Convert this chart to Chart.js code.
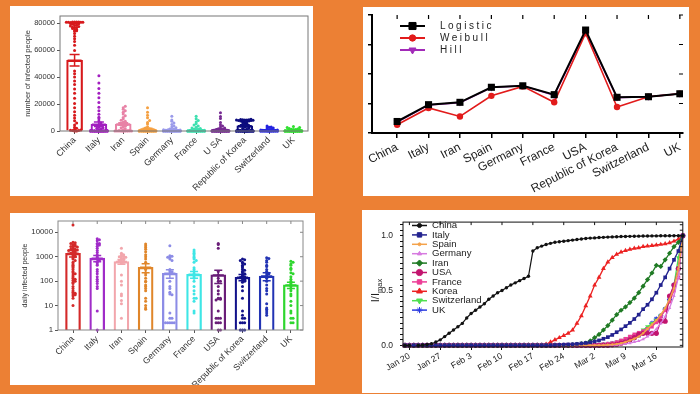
<!DOCTYPE html>
<html>
<head>
<meta charset="utf-8">
<script src="https://cdn.jsdelivr.net/npm/chart.js@4.4.1/dist/chart.umd.min.js"></script>
<style>
    html, body { margin: 0; padding: 0; width: 700px; height: 394px; overflow: hidden; background: #ec8034; }
    .panel { position: absolute; background: #fff; }
    .panel canvas { display: block; }
</style>
</head>
<body>
<div class="panel" style="left:10px;top:6px;width:303px;height:190px"><canvas id="total-chart"></canvas></div>
<div class="panel" style="left:363px;top:7px;width:326px;height:189px"><canvas id="model-chart"></canvas></div>
<div class="panel" style="left:10px;top:213px;width:305px;height:172px"><canvas id="daily-chart"></canvas></div>
<div class="panel" style="left:362px;top:210px;width:326px;height:183px"><canvas id="ratio-chart"></canvas></div>
<script>
// ---- top left: total infected per country ----
const totalCountries = ['China', 'Italy', 'Iran', 'Spain', 'Germany', 'France', 'U SA', 'Republic of Korea', 'Switzerland', 'UK'];
const totalColors = ['#d7191c', '#a21fc0', '#e882a6', '#f5a041', '#9a9aea', '#3ee0b0', '#762a92', '#0b0b7e', '#2424e0', '#30e030'];
const totalMean = [52600, 5000, 5200, 1400, 900, 1000, 1200, 3900, 700, 500];
const totalSem = [4200, 1700, 900, 600, 400, 400, 500, 700, 250, 200];
const totalTicks = [0, 20000, 40000, 60000, 80000];

const totalChina = [0, 0, 300, 440, 570, 830, 1300, 2000, 2700, 4500, 6000, 7700, 9700, 11800, 14400, 17200, 20400, 24300, 28000, 31200, 34500, 37200, 40200, 42600, 44700, 59800, 63800, 66500, 68500, 70500, 72400, 74100, 74500, 75000, 75500, 76200, 76700, 77000, 77200, 77700, 78100, 78500, 78800, 79300, 79800, 80000, 80200, 80400, 80500, 80600, 80700, 80800, 80800, 80900, 80900, 81000, 81000, 81000, 81100];
const totalItaly = [0, 0, 0, 0, 0, 0, 0, 0, 0, 0, 0, 0, 2, 3, 3, 3, 3, 3, 3, 3, 3, 3, 3, 3, 3, 3, 3, 3, 3, 3, 17, 79, 150, 229, 322, 400, 650, 888, 1128, 1694, 2036, 2502, 3089, 3858, 4636, 5883, 7375, 9172, 10149, 12462, 15113, 17660, 21157, 24747, 27980, 31506, 35713, 41035];
const totalIran = [0, 0, 0, 0, 2, 5, 18, 28, 43, 61, 95, 139, 245, 388, 593, 978, 1501, 2336, 2922, 3513, 4747, 5823, 6566, 7161, 8042, 9000, 10075, 11364, 12729, 13938, 14991, 16169, 17361, 18407];
const totalSpain = [0, 0, 0, 0, 0, 0, 0, 0, 0, 0, 1, 2, 2, 2, 2, 2, 2, 2, 6, 13, 15, 32, 45, 84, 120, 165, 222, 259, 400, 500, 673, 1073, 1695, 2277, 3146, 5232, 6391, 7798, 9942, 11748, 13910, 17300];
const totalGermany = [0, 0, 0, 0, 1, 4, 5, 8, 10, 12, 13, 14, 16, 16, 16, 16, 16, 16, 16, 16, 16, 16, 16, 18, 21, 26, 53, 66, 117, 150, 188, 240, 349, 534, 684, 847, 1112, 1296, 1567, 2369, 3062, 3795, 4838, 6012, 7156, 8198, 10999];
const totalFrance = [0, 0, 0, 3, 5, 6, 6, 6, 6, 6, 6, 11, 11, 11, 12, 12, 12, 12, 12, 12, 12, 12, 12, 12, 14, 18, 38, 57, 100, 130, 191, 212, 285, 423, 613, 949, 1126, 1209, 1784, 2281, 2876, 3661, 4499, 5423, 6633, 7730, 9134, 10995];
const totalUSA = [1, 1, 2, 2, 5, 5, 5, 6, 7, 8, 11, 11, 11, 12, 12, 13, 13, 14, 15, 15, 15, 15, 15, 35, 35, 53, 57, 60, 60, 62, 64, 68, 75, 100, 124, 158, 221, 319, 435, 541, 704, 994, 1301, 1697, 2247, 2943, 3680, 4663, 6411, 9259, 10800, 13600];
const totalKorea = [1, 1, 1, 2, 2, 3, 4, 4, 4, 11, 12, 15, 15, 16, 19, 23, 24, 24, 25, 27, 28, 28, 28, 28, 28, 29, 30, 31, 31, 104, 204, 433, 602, 833, 977, 1261, 1766, 2337, 3150, 3736, 4335, 5186, 5621, 6088, 6593, 7041, 7313, 7478, 7513, 7755, 7869, 7979, 8086, 8162, 8236, 8320, 8413, 8565, 8652];
const totalSwitzerland = [0, 0, 0, 0, 0, 0, 0, 0, 0, 0, 1, 1, 8, 8, 18, 27, 42, 56, 90, 114, 214, 268, 337, 374, 491, 652, 652, 1139, 1359, 2200, 2200, 2700, 3028, 3700];
const totalUK = [2, 2, 2, 2, 2, 2, 2, 2, 3, 8, 8, 8, 9, 9, 9, 9, 9, 9, 9, 9, 9, 9, 9, 13, 13, 13, 15, 20, 23, 36, 40, 51, 85, 115, 163, 206, 273, 321, 382, 456, 460, 798, 1140, 1140, 1391, 1543, 1950, 2626, 2689, 3269];
const totalPoints = [totalChina, totalItaly, totalIran, totalSpain, totalGermany, totalFrance, totalUSA, totalKorea, totalSwitzerland, totalUK];

// ---- top right: model comparison ----
const modelCountries = ['China', 'Italy', 'Iran', 'Spain', 'Germany', 'France', 'USA', 'Republic of Korea', 'Switzerland', 'UK'];
const logistic = [0.39, 0.96, 1.04, 1.55, 1.6, 1.3, 3.49, 1.21, 1.23, 1.33];
const weibull = [0.28, 0.85, 0.56, 1.26, 1.58, 1.04, 3.38, 0.88, 1.23, 1.33];
const hill = [0.37, 0.95, 1.03, 1.54, 1.6, 1.28, 3.45, 1.2, 1.23, 1.33];
const modelTicks = [0, 1, 2, 3, 4];

// ---- bottom left: daily infected (log) ----
const dailyCountries = ['China', 'Italy', 'Iran', 'Spain', 'Germany', 'France', 'USA', 'Republic of Korea', 'Switzerland', 'UK'];
const dailyColors = ['#d42a2a', '#a02cc8', '#f2a6ac', '#e0862a', '#8c8ce6', '#3ee6e6', '#6a1e78', '#12128a', '#2234b4', '#2ed62e'];
const dailyMean = [1390, 870, 630, 370, 210, 191, 180, 145, 163, 70];
const dailySem = [420, 250, 140, 150, 80, 60, 100, 40, 60, 20];
const dailyTicks = [1, 10, 100, 1000, 10000];

const dailyChina = [20000, 3900, 3700, 3500, 3200, 3000, 2800, 2700, 2600, 2500, 2300, 2100, 2000, 2000, 1900, 1800, 1750, 1700, 1500, 1450, 1400, 1300, 1200, 1100, 1000, 900, 800, 700, 600, 500, 450, 400, 350, 300, 250, 220, 200, 180, 150, 130, 120, 110, 100, 90, 80, 60, 50, 40, 35, 32, 30, 28, 25, 20, 10];
const dailyItaly = [5500, 5000, 4500, 3500, 3500, 3300, 3000, 2700, 2200, 1800, 1500, 1200, 1000, 900, 800, 700, 600, 500, 450, 300, 250, 200, 150, 120, 100, 80, 60, 50, 6, 1];
const dailyIran = [2200, 1400, 1300, 1200, 1100, 1050, 1000, 950, 900, 850, 800, 750, 700, 650, 600, 550, 180, 100, 70, 30, 25, 16, 12, 3];
const dailySpain = [3300, 2800, 2400, 2000, 1600, 1200, 1000, 800, 600, 340, 300, 220, 180, 130, 100, 95, 70, 60, 50, 40, 20, 15, 10, 8, 7];
const dailyGermany = [2800, 1100, 1050, 950, 900, 800, 700, 300, 260, 240, 210, 100, 60, 50, 35, 30, 28, 5, 3, 3, 2, 2, 2, 2, 2];
const dailyFrance = [1900, 1600, 1400, 1200, 1000, 900, 800, 700, 600, 350, 300, 250, 200, 150, 130, 100, 60, 40, 30, 20, 20, 15, 6, 5];
const dailyUSA = [3500, 3200, 2200, 250, 180, 130, 100, 100, 60, 40, 30, 20, 20, 19, 18, 17, 6, 3, 3, 3, 2, 2, 2, 1, 1];
const dailyKorea = [800, 750, 700, 600, 550, 500, 450, 400, 350, 300, 280, 250, 220, 200, 180, 160, 150, 140, 130, 120, 110, 100, 90, 60, 40, 20, 6, 4, 3, 3, 2, 2, 2, 1, 1, 1];
const dailySwitzerland = [900, 850, 700, 600, 450, 400, 300, 250, 220, 200, 180, 150, 130, 100, 70, 50, 40, 30, 12, 8, 7, 6, 5, 4];
const dailyUK = [650, 600, 500, 450, 340, 300, 220, 200, 150, 120, 100, 80, 70, 60, 50, 40, 30, 25, 15, 10, 6, 5, 3, 3, 2, 2];
const dailyPoints = [dailyChina, dailyItaly, dailyIran, dailySpain, dailyGermany, dailyFrance, dailyUSA, dailyKorea, dailySwitzerland, dailyUK];

// ---- bottom right: I / Imax from Jan 19 ----
const normChina = [
    0, 0, null, 0, 0.003, 0.008, 0.015, 0.03, 0.05, 0.08,
    0.11, 0.14, 0.17, 0.2, 0.25, 0.29, 0.32, 0.35, 0.38, 0.42,
    0.45, 0.48, 0.5, 0.525, 0.55, 0.57, 0.59, 0.61, 0.63, 0.86,
    0.89, 0.905, 0.92, 0.93, 0.94, 0.945, 0.95, 0.955, 0.96, 0.965,
    0.97, 0.975, 0.978, 0.98, 0.983, 0.985, 0.987, 0.989, 0.99, 0.992,
    0.993, 0.994, 0.995, 0.996, 0.997, 0.997, 0.998, 0.998, 0.999, 0.999,
    0.999, 1, 1, 1];
const normItaly = [
    0, 0, 0, 0, 0, 0, 0, 0, 0, 0, 0, 0, 0, 0, 0, 0, 0, 0, 0, 0, 0, 0, 0, 0, 0, 0, 0, 0, 0, 0, 0, 0, 0, 0,
    0.002, 0.004, 0.006, 0.008, 0.01, 0.013, 0.017, 0.022, 0.028, 0.036,
    0.045, 0.06, 0.075, 0.095, 0.12, 0.145, 0.175, 0.205, 0.24, 0.28,
    0.33, 0.37, 0.42, 0.48, 0.55, 0.62, 0.7, 0.78, 0.86, 1];
const normSpain = [
    0, 0, 0, 0, 0, 0, 0, 0, 0, 0, 0, 0, 0, 0, 0, 0, 0, 0, 0, 0, 0, 0, 0, 0, 0, 0, 0, 0, 0, 0,
    0, 0, 0, 0, 0, 0, 0, 0, 0, 0, 0, 0, 0, 0, 0,
    0.002, 0.005, 0.008, 0.012, 0.02, 0.03, 0.045, 0.06, 0.08, 0.11, 0.15, 0.19, 0.23, 0.28, 0.34, 0.42, 0.52, 0.7, 1];
const normGermany = [
    0, 0, 0, 0, 0, 0, 0, 0, 0, 0, 0, 0, 0, 0, 0, 0, 0, 0, 0, 0, 0, 0, 0, 0, 0, 0, 0, 0, 0, 0,
    0, 0, 0, 0, 0, 0, 0, 0, 0, 0, 0, 0, 0, 0, 0, 0, 0,
    0.002, 0.005, 0.01, 0.015, 0.02, 0.03, 0.04, 0.055, 0.08, 0.11, 0.15, 0.2, 0.26, 0.34, 0.45, 0.62, 1];
const normIran = [
    0, 0, 0, 0, 0, 0, 0, 0, 0, 0, 0, 0, 0, 0, 0, 0, 0, 0, 0, 0, 0, 0, 0, 0, 0, 0, 0, 0, 0, 0,
    0, 0, 0, 0, 0, 0, 0, 0,
    0.005, 0.01, 0.015, 0.02, 0.04, 0.07, 0.1, 0.14, 0.18, 0.23, 0.28, 0.32, 0.35, 0.39, 0.43, 0.48,
    0.54, 0.6, 0.66, 0.73, 0.72, 0.78, 0.84, 0.9, 0.94, 1];
const normUSA = [
    0, 0, 0, 0, 0, 0, 0, 0, 0, 0, 0, 0, 0, 0, 0, 0, 0, 0, 0, 0, 0, 0, 0, 0, 0, 0, 0, 0, 0, 0,
    0, 0, 0, 0, 0, 0, 0, 0, 0, 0, 0, 0, 0, 0, 0, 0, 0,
    0.005, 0.01, 0.02, 0.03, 0.05, 0.07, 0.1, 0.11, 0.11, 0.11, 0.11, 0.22, 0.22, 0.45, 0.55, 0.7, 1];
const normFrance = [
    0, 0, 0, 0, 0, 0, 0, 0, 0, 0, 0, 0, 0, 0, 0, 0, 0, 0, 0, 0, 0, 0, 0, 0, 0, 0, 0, 0, 0, 0,
    0, 0, 0, 0, 0, 0, 0, 0, 0, 0, 0, 0, 0,
    0.003, 0.005, 0.01, 0.015, 0.02, 0.03, 0.045, 0.06, 0.08, 0.1, 0.115, 0.13, 0.15, 0.17, 0.21, 0.26,
    0.32, 0.4, 0.5, 0.62, 1];
const normKorea = [
    0, 0, 0, 0, 0, 0, 0, 0, 0, 0, 0, 0, 0, 0, 0, 0, 0, 0, 0, 0, 0, 0, 0, 0, 0, 0, 0, 0, 0, 0, 0, 0,
    0.01, 0.03, 0.05, 0.07, 0.09, 0.11, 0.14, 0.2, 0.27, 0.36,
    0.45, 0.55, 0.62, 0.7, 0.76, 0.8, 0.83, 0.85, 0.865, 0.875,
    0.885, 0.89, 0.9, 0.905, 0.91, 0.915, 0.92, 0.925, 0.935, 0.95,
    0.97, 1];
const normSwitzerland = [
    0, 0, 0, 0, 0, 0, 0, 0, 0, 0, 0, 0, 0, 0, 0, 0, 0, 0, 0, 0, 0, 0, 0, 0, 0, 0, 0, 0, 0, 0,
    0, 0, 0, 0, 0, 0, 0, 0, 0, 0, 0, 0, 0, 0,
    0.005, 0.01, 0.015, 0.02, 0.03, 0.045, 0.06, 0.075, 0.09, 0.11, 0.14, 0.17, 0.2, 0.23, 0.27, 0.33,
    0.4, 0.55, 0.8, 1];
const normUK = [
    0, 0, 0, 0, 0, 0, 0, 0, 0, 0, 0, 0, 0, 0, 0, 0, 0, 0, 0, 0, 0, 0, 0, 0, 0, 0, 0, 0, 0, 0,
    0, 0, 0, 0, 0, 0, 0, 0, 0, 0, 0, 0, 0, 0, 0,
    0.005, 0.01, 0.015, 0.02, 0.03, 0.04, 0.05, 0.07, 0.09, 0.12, 0.15, 0.2, 0.24, 0.27, 0.33, 0.42,
    0.55, 0.7, 1];
const dateTickLabels = ['Jan 20', 'Jan 27', 'Feb 3', 'Feb 10', 'Feb 17', 'Feb 24', 'Mar 2', 'Mar 9', 'Mar 16'];
const ratioLabelValues = [0, 0.5, 1];
const ratioLabels = ['0.0', '0.5', '1.0'];

const FONT = "'Liberation Sans', Arial, sans-serif";
Chart.defaults.font.family = FONT;
Chart.defaults.color = '#222';
Chart.defaults.animation = false;
Chart.defaults.events = [];
Chart.defaults.plugins.legend.display = false;
Chart.defaults.plugins.tooltip.enabled = false;

const setTicks = vals => scale => { scale.ticks = vals.map(v => ({ value: v })); };

// spread points sideways when they sit in the same value bin
function swarm(values, bin, step, maxSide, tf) {
    const seen = {};
    return values.map(v => {
        const b = Math.round(tf(v) / bin);
        const k = seen[b] = (seen[b] || 0) + 1;
        const n = (k - 1) % (2 * maxSide + 1);
        return n === 0 ? 0 : (n % 2 ? 1 : -1) * Math.ceil(n / 2) * step;
    });
}

function frame(cfg) {
    return {
        id: 'frame',
        afterDraw(chart) {
            const { ctx, chartArea: a } = chart;
            ctx.save();
            ctx.strokeStyle = cfg.color;
            ctx.lineWidth = cfg.width;
            if (cfg.box) ctx.strokeRect(a.left, a.top, a.right - a.left, a.bottom - a.top);
            if (cfg.mirror) {
                ctx.beginPath();
                chart.scales.x.ticks.forEach(t => {
                    const px = chart.scales.x.getPixelForValue(t.value);
                    ctx.moveTo(px, a.top); ctx.lineTo(px, a.top + cfg.mirror);
                });
                chart.scales.y.ticks.forEach(t => {
                    const py = chart.scales.y.getPixelForValue(t.value);
                    ctx.moveTo(a.right, py); ctx.lineTo(a.right - cfg.mirror, py);
                });
                ctx.stroke();
            }
            ctx.restore();
        }
    };
}

function errorBars(means, sems, colors, cap) {
    return {
        id: 'errorBars',
        afterDatasetsDraw(chart) {
            const { ctx } = chart;
            const xs = chart.scales.x, ys = chart.scales.y;
            ctx.save();
            ctx.lineWidth = 1.5;
            means.forEach((m, i) => {
                const x = xs.getPixelForValue(i);
                const top = ys.getPixelForValue(m + sems[i]);
                const bot = ys.getPixelForValue(Math.max(m - sems[i], ys.min));
                const mid = ys.getPixelForValue(m);
                ctx.strokeStyle = colors[i];
                ctx.beginPath();
                ctx.moveTo(x, top); ctx.lineTo(x, bot);
                ctx.moveTo(x - cap, top); ctx.lineTo(x + cap, top);
                ctx.moveTo(x - cap, bot); ctx.lineTo(x + cap, bot);
                ctx.moveTo(x - cap * 1.4, mid); ctx.lineTo(x + cap * 1.4, mid);
                ctx.stroke();
            });
            ctx.restore();
        }
    };
}

function insideLegend(cfg) {
    return {
        id: 'insideLegend',
        afterDraw(chart) {
            const { ctx } = chart;
            ctx.save();
            chart.data.datasets.forEach((ds, k) => {
                const y = cfg.y + k * cfg.rowH;
                ctx.strokeStyle = ds.borderColor;
                ctx.fillStyle = ds.borderColor;
                ctx.lineWidth = cfg.lineW;
                ctx.beginPath();
                ctx.moveTo(cfg.x, y); ctx.lineTo(cfg.x + cfg.len, y);
                ctx.stroke();
                ctx.lineWidth = 1;
                Chart.helpers.drawPoint(ctx, {
                    pointStyle: ds.pointStyle, rotation: ds.pointRotation || 0,
                    radius: ds.pointRadius * cfg.markScale, borderWidth: 1
                }, cfg.x + cfg.len / 2, y);
                ctx.fillStyle = '#222';
                ctx.font = cfg.font;
                if (cfg.spacing) ctx.letterSpacing = cfg.spacing;
                ctx.textBaseline = 'middle';
                ctx.textAlign = 'left';
                ctx.fillText(ds.label, cfg.textX, y);
            });
            ctx.restore();
        }
    };
}

// ---------- chart 1 ----------
new Chart(document.getElementById('total-chart'), {
    type: 'bar',
    data: {
        datasets: [
            {
                type: 'bar',
                data: totalMean.map((m, i) => ({ x: i, y: m })),
                backgroundColor: 'rgba(255,255,255,0)',
                borderColor: totalColors,
                borderWidth: 1.5,
                barThickness: 16,
                order: 2,
            },
            ...totalPoints.map((vals, i) => {
                const off = swarm(vals, 1800, 0.085, 4, v => v);
                return {
                    type: 'scatter',
                    data: vals.map((v, k) => ({ x: i + off[k], y: v })),
                    pointRadius: 1.5,
                    pointBackgroundColor: totalColors[i],
                    pointBorderWidth: 0,
                    showLine: false,
                    clip: false,
                    order: 1,
                };
            })
        ]
    },
    options: {
        responsive: true,
        maintainAspectRatio: false,
        layout: { padding: { top: 10, right: 5, left: 0, bottom: 0 } },
        scales: {
            x: {
                type: 'linear', min: -0.6, max: 9.6, offset: false,
                afterBuildTicks: setTicks(totalCountries.map((c, i) => i)),
                afterFit: s => { s.height = 65; },
                ticks: { callback: v => totalCountries[v], minRotation: 45, maxRotation: 45, autoSkip: false, font: { size: 9 }, padding: 1, color: '#333' },
                grid: { drawOnChartArea: false, offset: false, tickLength: 3, color: '#555' },
                border: { display: false }
            },
            y: {
                min: 0, max: 85500,
                afterBuildTicks: setTicks(totalTicks),
                afterFit: s => { s.width = 50; },
                ticks: { callback: v => String(v), font: { size: 7.5 }, padding: 2, color: '#333' },
                grid: { drawOnChartArea: false, tickLength: 3, color: '#555' },
                border: { display: false },
                title: { display: true, text: 'number of infected people', font: { size: 7.5 }, padding: { top: 13.5, bottom: 0 }, color: '#333' }
            }
        }
    },
    plugins: [frame({ box: true, color: '#777', width: 1 }), errorBars(totalMean, totalSem, totalColors, 5)]
});

// ---------- chart 2 ----------
new Chart(document.getElementById('model-chart'), {
    type: 'line',
    data: {
        datasets: [
            {
                label: 'Logistic', data: logistic.map((v, i) => ({ x: i, y: v })),
                borderColor: '#000', backgroundColor: '#000', borderWidth: 2,
                pointStyle: 'rect', pointRadius: 5, pointBackgroundColor: '#000', pointBorderWidth: 0
            },
            {
                label: 'Weibull', data: weibull.map((v, i) => ({ x: i, y: v })),
                borderColor: '#e21b1b', backgroundColor: '#e21b1b', borderWidth: 1.6,
                pointStyle: 'circle', pointRadius: 3.2, pointBackgroundColor: '#e21b1b', pointBorderWidth: 0
            },
            {
                label: 'Hill', data: hill.map((v, i) => ({ x: i, y: v })),
                borderColor: '#a22ab8', backgroundColor: '#a22ab8', borderWidth: 1.6,
                pointStyle: 'triangle', pointRotation: 180, pointRadius: 4, pointBackgroundColor: '#a22ab8', pointBorderWidth: 0
            }
        ]
    },
    options: {
        responsive: true,
        maintainAspectRatio: false,
        layout: { padding: { top: 8, right: 6, left: 0, bottom: 0 } },
        scales: {
            x: {
                type: 'linear', min: -0.8, max: 9.1,
                afterBuildTicks: setTicks(modelCountries.map((c, i) => i)),
                afterFit: s => { s.height = 63; },
                ticks: { callback: v => modelCountries[v], minRotation: 27, maxRotation: 27, autoSkip: false, font: { size: 12 }, padding: 2, color: '#222' },
                grid: { drawOnChartArea: false, tickLength: 5, color: '#000', lineWidth: 1.5 },
                border: { display: true, color: '#000', width: 2 }
            },
            y: {
                min: 0, max: 4,
                afterBuildTicks: setTicks(modelTicks),
                afterFit: s => { s.width = 9; },
                ticks: { display: false },
                grid: { drawOnChartArea: false, tickLength: 4, color: '#000', lineWidth: 1.5 },
                border: { display: true, color: '#000', width: 2 }
            }
        }
    },
    plugins: [
        frame({ box: false, color: '#000', width: 1.2, mirror: 4 }),
        insideLegend({ x: 37, len: 25, textX: 77, y: 19, rowH: 12, lineW: 2, markScale: 1, font: "10px " + FONT, spacing: '2.5px' })
    ]
});

// ---------- chart 3 ----------
new Chart(document.getElementById('daily-chart'), {
    type: 'bar',
    data: {
        datasets: [
            {
                type: 'bar',
                data: dailyMean.map((m, i) => ({ x: i, y: m })),
                backgroundColor: 'rgba(255,255,255,0)',
                borderColor: dailyColors,
                borderWidth: 1.6,
                barThickness: 15,
                order: 2,
            },
            ...dailyPoints.map((vals, i) => {
                const off = swarm(vals, 0.07, 0.09, 3, v => Math.log10(v));
                return {
                    type: 'scatter',
                    data: vals.map((v, k) => ({ x: i + off[k], y: v })),
                    pointRadius: 1.5,
                    pointBackgroundColor: dailyColors[i],
                    pointBorderWidth: 0,
                    showLine: false,
                    clip: false,
                    order: 1,
                };
            })
        ]
    },
    options: {
        responsive: true,
        maintainAspectRatio: false,
        layout: { padding: { top: 8, right: 12, left: 0, bottom: 0 } },
        scales: {
            x: {
                type: 'linear', min: -0.62, max: 9.5, offset: false,
                afterBuildTicks: setTicks(dailyCountries.map((c, i) => i)),
                afterFit: s => { s.height = 55; },
                ticks: { callback: v => dailyCountries[v], minRotation: 45, maxRotation: 45, autoSkip: false, font: { size: 8.7 }, padding: 1, color: '#333' },
                grid: { drawOnChartArea: false, offset: false, tickLength: 3, color: '#555' },
                border: { display: false }
            },
            y: {
                type: 'logarithmic', min: 1, max: 29000,
                afterBuildTicks: setTicks(dailyTicks),
                afterFit: s => { s.width = 48; },
                ticks: { callback: v => String(v), font: { size: 7.8 }, padding: 2, color: '#333' },
                grid: { drawOnChartArea: false, tickLength: 3, color: '#555' },
                border: { display: false },
                title: { display: true, text: 'daily infected people', font: { size: 7 }, padding: { top: 10.8, bottom: 0 }, color: '#333' }
            }
        }
    },
    plugins: [frame({ box: true, color: '#888', width: 1, mirror: 3 }), errorBars(dailyMean, dailySem, dailyColors, 4)]
});

// ---------- chart 4 ----------
const months = ['Jan', 'Feb', 'Mar', 'Apr'];
const dayLabels = normChina.map((v, i) => {
    const d = new Date(2020, 0, 19 + i);
    return months[d.getMonth()] + ' ' + d.getDate();
});
const dateTicks = dateTickLabels.map(l => dayLabels.indexOf(l));
const ratioTicks = [];
for (let v = 0; v <= 1.1001; v += 0.05) ratioTicks.push(+v.toFixed(2));

const ratioSeries = [
    { label: 'China', data: normChina, color: '#111111', style: 'circle', r: 1.7, w: 1.2 },
    { label: 'Italy', data: normItaly, color: '#23238f', style: 'rect', r: 2.6, w: 1.3 },
    { label: 'Spain', data: normSpain, color: '#f4a24a', style: 'circle', r: 1.2, w: 1.5 },
    { label: 'Germany', data: normGermany, color: '#d77be0', style: 'triangle', r: 2, w: 1.2 },
    { label: 'Iran', data: normIran, color: '#1f7a24', style: 'rectRot', r: 2.6, w: 1.3 },
    { label: 'USA', data: normUSA, color: '#c2146e', style: 'circle', r: 2.6, w: 1.3 },
    { label: 'France', data: normFrance, color: '#ec3d96', style: 'rect', r: 2.6, w: 1.3 },
    { label: 'Korea', data: normKorea, color: '#ec2222', style: 'triangle', r: 2.8, w: 1.3 },
    { label: 'Switzerland', data: normSwitzerland, color: '#4fe04f', style: 'triangle', r: 2.8, w: 1.3, rot: 180 },
    { label: 'UK', data: normUK, color: '#2a3ae0', style: 'star', r: 2.6, w: 1.3 }
];

const ratioLabel = {
    id: 'ratioLabel',
    afterDraw(chart) {
        const { ctx } = chart;
        const y = chart.scales.y.getPixelForValue(0.5);
        ctx.save();
        ctx.translate(13, y);
        ctx.rotate(-Math.PI / 2);
        ctx.fillStyle = '#222';
        ctx.textAlign = 'left';
        ctx.textBaseline = 'alphabetic';
        ctx.font = '11px ' + FONT;
        const w = ctx.measureText('I/I').width;
        ctx.font = '7.5px ' + FONT;
        const sw = ctx.measureText('max').width;
        const x0 = -(w + sw) / 2;
        ctx.font = '11px ' + FONT;
        ctx.fillText('I/I', x0, 4);
        ctx.font = '7.5px ' + FONT;
        ctx.fillText('max', x0 + w, 7);
        ctx.restore();
    }
};

new Chart(document.getElementById('ratio-chart'), {
    type: 'line',
    data: {
        datasets: ratioSeries.map(s => ({
            label: s.label,
            data: s.data.map((v, i) => ({ x: i, y: v })),
            borderColor: s.color,
            backgroundColor: s.color,
            borderWidth: s.w,
            pointStyle: s.style,
            pointRotation: s.rot || 0,
            pointRadius: s.r,
            pointBackgroundColor: s.color,
            pointBorderColor: s.color,
            pointBorderWidth: s.style === 'star' ? 1.2 : 0,
            clip: false
        }))
    },
    options: {
        responsive: true,
        maintainAspectRatio: false,
        layout: { padding: { top: 5, right: 5, left: 0, bottom: 0 } },
        scales: {
            x: {
                type: 'linear', min: -0.45, max: 63,
                afterBuildTicks: setTicks(dateTicks),
                afterFit: s => { s.height = 46; },
                ticks: { callback: v => dayLabels[v], minRotation: 30, maxRotation: 30, autoSkip: false, font: { size: 8.7 }, padding: 1, color: '#222' },
                grid: { drawOnChartArea: false, tickLength: 3, color: '#111' },
                border: { display: false }
            },
            y: {
                min: -0.015, max: 1.124,
                afterBuildTicks: setTicks(ratioTicks),
                afterFit: s => { s.width = 41; },
                ticks: {
                    callback: v => { const k = ratioLabelValues.indexOf(v); return k >= 0 ? ratioLabels[k] : ''; },
                    autoSkip: false, font: { size: 8.5 }, padding: 7, color: '#222'
                },
                grid: { drawOnChartArea: false, tickLength: 3, color: '#111' },
                border: { display: false }
            }
        }
    },
    plugins: [
        frame({ box: true, color: '#111', width: 1, mirror: 3 }),
        ratioLabel,
        insideLegend({ x: 50, len: 15, textX: 70, y: 15.5, rowH: 9.4, lineW: 1.5, markScale: 1.2, font: '9.6px ' + FONT })
    ]
});
</script>
</body>
</html>
